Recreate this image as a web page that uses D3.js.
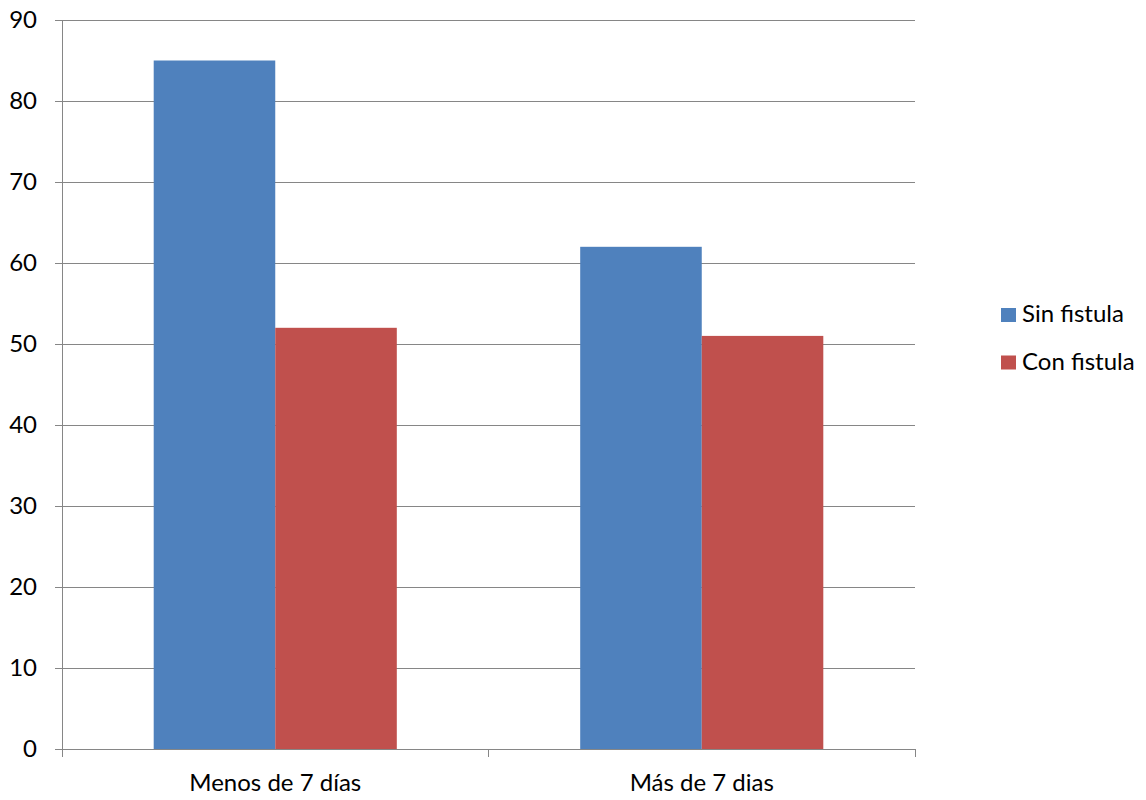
<!DOCTYPE html>
<html><head><meta charset="utf-8">
<script src="https://cdn.jsdelivr.net/npm/d3@7"></script>
<style>body{margin:0;background:#fff}svg{display:block}text{font-family:Lato,"Open Sans",sans-serif;fill:#000}</style>
</head><body><svg id="c" width="1146" height="800"></svg>
<script>
const categories = ["Menos de 7 días", "Más de 7 dias"];
const seriesNames = ["Sin fistula", "Con fistula"];
const sinFistula = [85, 62];
const conFistula = [52, 51];
const yTicks = [0,10,20,30,40,50,60,70,80,90];
const colors = ["#4F81BD", "#C0504D"];

(function(){
const svg = d3.select("#c");
const pLeft = 62, pRight = 915, pTop = 20, pBottom = 749;
const fs = 24;
const x = d3.scaleBand().domain(categories).range([pLeft, pRight]).padding(0);
const groupFrac = 0.57;
const xi = d3.scaleBand().domain(seriesNames).range([0, x.bandwidth()*groupFrac]);
const y = d3.scaleLinear().domain([0, 90]).range([pBottom, pTop]);

svg.append("g").selectAll("line").data(yTicks.filter(d=>d>0)).join("line")
  .attr("x1", pLeft).attr("x2", pRight).attr("y1", d=>y(d)).attr("y2", d=>y(d))
  .attr("stroke", "#868686").attr("stroke-width", 1);

const data = categories.map((c,i)=>({cat:c, vals:[sinFistula[i], conFistula[i]]}));
const g = svg.append("g");
data.forEach(d=>{
  const off = x(d.cat) + (x.bandwidth() - x.bandwidth()*groupFrac)/2;
  d.vals.forEach((v,j)=>{
    g.append("rect").attr("x", off + xi(seriesNames[j])).attr("width", xi.bandwidth())
      .attr("y", y(v)).attr("height", y(0)-y(v)).attr("fill", colors[j]);
  });
});

const yAxis = d3.axisLeft(y).tickValues(yTicks).tickSize(7).tickPadding(18).tickFormat(d3.format("d"));
const ya = svg.append("g").attr("transform", `translate(${pLeft},0)`).call(yAxis);
ya.select(".domain").attr("stroke","#868686");
ya.selectAll(".tick line").attr("stroke","#868686");
ya.selectAll(".tick text").attr("font-size", fs).attr("font-family","Lato,'Open Sans',sans-serif").attr("fill","#000");

const xa = svg.append("g").attr("transform", `translate(0,${pBottom})`);
xa.append("line").attr("x1", pLeft).attr("x2", pRight).attr("stroke","#868686");
const edges = [pLeft, ...categories.map(c=>x(c)+x.bandwidth())];
xa.selectAll(".tk").data(edges).join("line").attr("class","tk")
  .attr("x1", d=>d).attr("x2", d=>d).attr("y1", 0).attr("y2", 8).attr("stroke","#868686");
xa.selectAll(".lb").data(categories).join("text").attr("class","lb")
  .attr("x", d=>x(d)+x.bandwidth()/2).attr("y", 42).attr("text-anchor","middle")
  .attr("font-size", fs).text(d=>d);
svg.selectAll("line").attr("shape-rendering","crispEdges");

const lg = svg.append("g").attr("transform","translate(1001,308)");
seriesNames.forEach((s,i)=>{
  lg.append("rect").attr("x",0).attr("y", i*47.5).attr("width",15).attr("height",14).attr("fill",colors[i]);
  lg.append("text").attr("x",21).attr("y", i*47.5+14).attr("font-size",fs).text(s);
});
})();
</script></body></html>
